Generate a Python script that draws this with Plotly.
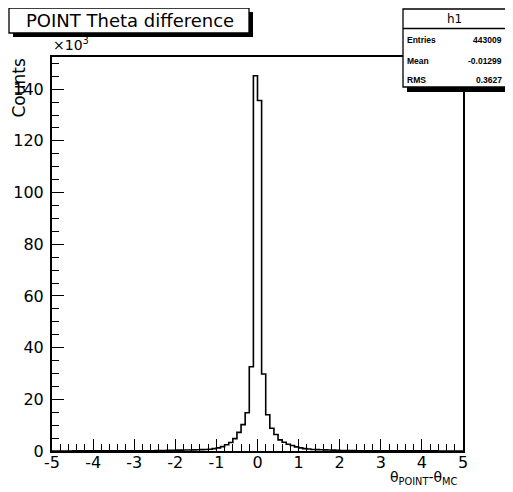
import plotly.graph_objects as go

# ---------------- data (counts in units of 10^3) ----------------
x_min, x_max, n_bins = -5.0, 5.0, 100
counts = [
    # -5.0 .. -2.2
    0.02, 0.02, 0.02, 0.02, 0.02, 0.03, 0.03, 0.03, 0.03, 0.03,
    0.04, 0.04, 0.04, 0.05, 0.05, 0.05, 0.06, 0.06, 0.07, 0.07,
    0.08, 0.09, 0.10, 0.11, 0.12, 0.14, 0.16, 0.18,
    # -2.2 .. -1.2
    0.30, 0.30, 0.35, 0.35, 0.40, 0.40, 0.45, 0.50, 0.55, 0.60,
    # -1.2 .. 0
    0.70, 0.90, 1.2, 1.7, 2.4, 3.3, 4.8, 7.2, 10.2, 14.8, 32.6, 145.2,
    # 0 .. 1.2
    135.6, 29.8, 14.0, 8.8, 6.4, 4.3, 3.4, 2.6, 2.1, 1.6, 1.2, 0.9,
    # 1.2 .. 2.0
    0.75, 0.60, 0.55, 0.50, 0.45, 0.40, 0.35, 0.30,
    # 2.0 .. 5.0
    0.20, 0.18, 0.16, 0.14, 0.12, 0.11, 0.10, 0.09, 0.08, 0.07,
    0.07, 0.06, 0.06, 0.05, 0.05, 0.05, 0.04, 0.04, 0.04, 0.03,
    0.03, 0.03, 0.03, 0.03, 0.02, 0.02, 0.02, 0.02, 0.02, 0.02,
]
x_tick_vals = [-5, -4, -3, -2, -1, 0, 1, 2, 3, 4, 5]
y_tick_vals = [0, 20, 40, 60, 80, 100, 120, 140]

title_text = "POINT Theta difference"
stats_name = "h1"
stats_rows = [("Entries", "443009"), ("Mean", "-0.01299"), ("RMS", "0.3627")]

# ---------------- figure ----------------
OFF = 8                      # page body margin of the browser
W, H = 513 - OFF, 492 - OFF
L, R, T, B = 52, 463, 57, 451   # plot frame in screen pixels

def px(xp):
    return (xp - L) / (R - L)

def py(yp):
    return (B - yp) / (B - T)

width = (x_max - x_min) / n_bins
edges = [x_min + i * width for i in range(n_bins + 1)]
ys = counts + [counts[-1]]

fig = go.Figure()
fig.add_trace(go.Scatter(
    x=edges, y=ys, mode="lines",
    line=dict(shape="hv", color="black", width=1.6),
    hoverinfo="skip", showlegend=False,
))

ymax = max(counts) * 1.05
font_family = "DejaVu Sans, Arial, sans-serif"

fig.update_layout(
    width=W, height=H,
    margin=dict(l=L - OFF, r=513 - R, t=T - OFF, b=492 - B, autoexpand=False),
    paper_bgcolor="white", plot_bgcolor="white",
    showlegend=False,
    font=dict(family=font_family, color="black", size=16),
    xaxis=dict(
        range=[x_min, x_max], showgrid=False, zeroline=False,
        showline=True, linecolor="black", linewidth=2, mirror=True,
        ticks="inside", ticklen=12, tickwidth=1.3, tickcolor="black",
        tickvals=x_tick_vals, ticktext=[str(v) for v in x_tick_vals],
        tickfont=dict(size=16, family=font_family),
        ticklabelstandoff=-4,
        minor=dict(dtick=0.2, ticks="inside", ticklen=7, tickwidth=1.3, tickcolor="black", showgrid=False),
        fixedrange=True,
    ),
    yaxis=dict(
        range=[0, ymax], showgrid=False, zeroline=False,
        showline=True, linecolor="black", linewidth=2, mirror=True,
        ticks="inside", ticklen=12, tickwidth=1.3, tickcolor="black",
        tickvals=y_tick_vals, ticktext=[str(v) for v in y_tick_vals],
        tickfont=dict(size=16, family=font_family),
        ticklabelstandoff=3,
        minor=dict(dtick=5, ticks="inside", ticklen=7, tickwidth=1.3, tickcolor="black", showgrid=False),
        fixedrange=True,
    ),
)

shapes = []
# title box with shadow
shapes.append(dict(type="rect", xref="paper", yref="paper",
                   x0=px(13), x1=px(253), y0=py(37), y1=py(12),
                   fillcolor="black", line=dict(width=0), layer="above"))
shapes.append(dict(type="rect", xref="paper", yref="paper",
                   x0=px(9), x1=px(249), y0=py(33), y1=py(8),
                   fillcolor="white", line=dict(color="black", width=1.3), layer="above"))
# stats box with shadow
shapes.append(dict(type="rect", xref="paper", yref="paper",
                   x0=px(407), x1=px(511), y0=py(92), y1=py(13),
                   fillcolor="black", line=dict(width=0), layer="above"))
shapes.append(dict(type="rect", xref="paper", yref="paper",
                   x0=px(403), x1=px(506), y0=py(87), y1=py(9),
                   fillcolor="white", line=dict(color="black", width=1.3), layer="above"))
shapes.append(dict(type="line", xref="paper", yref="paper",
                   x0=px(403), x1=px(506), y0=py(28.5), y1=py(28.5),
                   line=dict(color="black", width=1.3), layer="above"))
fig.update_layout(shapes=shapes)

ann = []
ann.append(dict(text=title_text, xref="paper", yref="paper",
                x=px(130), y=py(21), xanchor="center", yanchor="middle",
                showarrow=False, font=dict(size=18, family=font_family)))
ann.append(dict(text=stats_name, xref="paper", yref="paper",
                x=px(454.5), y=py(19), xanchor="center", yanchor="middle",
                showarrow=False, font=dict(size=12, family=font_family)))
row_y = [40, 61, 80]
for (k, v), yy in zip(stats_rows, row_y):
    ann.append(dict(text="<b>%s</b>" % k, xref="paper", yref="paper",
                    x=px(405), y=py(yy), xanchor="left", yanchor="middle",
                    showarrow=False, font=dict(size=8.5, family="Liberation Sans, Arial")))
    ann.append(dict(text="<b>%s</b>" % v, xref="paper", yref="paper",
                    x=px(504), y=py(yy), xanchor="right", yanchor="middle",
                    showarrow=False, font=dict(size=8.5, family="Liberation Sans, Arial")))
# y-axis exponent
ann.append(dict(text="×10<sup>3</sup>", xref="paper", yref="paper",
                x=px(51), y=py(55), xanchor="left", yanchor="bottom",
                showarrow=False, font=dict(size=14, family=font_family)))
# y-axis title
ann.append(dict(text="Counts", xref="paper", yref="paper",
                x=px(18), y=py(57), xanchor="center", yanchor="top",
                textangle=-90, showarrow=False, font=dict(size=17, family=font_family)))
# x-axis title
ann.append(dict(text="θ<sub>POINT</sub>-θ<sub>MC</sub>", xref="paper", yref="paper",
                x=px(459), y=py(467), xanchor="right", yanchor="top",
                showarrow=False, font=dict(size=14, family=font_family)))
fig.update_layout(annotations=ann)

fig.write_html("out.html")
